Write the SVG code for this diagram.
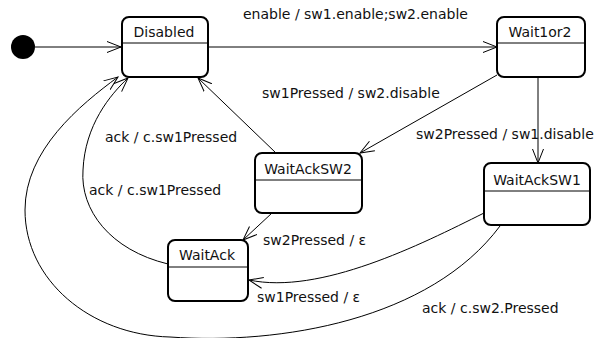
<svg xmlns="http://www.w3.org/2000/svg" width="599" height="338" viewBox="0 0 599 338">
<style>
.st{fill:#fff;stroke:#000;stroke-width:2}
.dv{stroke:#000;stroke-width:1}
.nm{font-family:"DejaVu Sans",sans-serif;font-size:14px;fill:#111;text-anchor:middle}
.lb{font-family:"DejaVu Sans",sans-serif;font-size:14px;fill:#111}
.c{fill:none;stroke:#000;stroke-width:1;marker-end:url(#ah)}
</style>
<defs>
<marker id="ah" markerUnits="userSpaceOnUse" markerWidth="16" markerHeight="14" refX="14" refY="6" orient="auto">
<path d="M0,0.5 L14,6 L0,11.5" fill="none" stroke="#000" stroke-width="1"/>
</marker>
</defs>
<rect width="599" height="338" fill="#fff"/>
<g id="connectors">
<path class="c" d="M35,47 L121,47"/>
<path class="c" d="M208,47 L497,47"/>
<path class="c" d="M497,75 L360,153"/>
<path class="c" d="M538,78 L538,163"/>
<path class="c" d="M276,153 L198,78"/>
<path class="c" d="M272,213 L243,240"/>
<path class="c" d="M484,213 C420,245 320,295 249,280"/>
<path class="c" d="M168,264 C110,250 80,210 83,170 C85,125 110,95 128,78"/>
<path class="c" d="M500,226 C430,320 280,345 170,337 C90,335 25,280 25,210 C25,150 80,105 118,77"/>
</g>
<g id="labels">
<text class="lb" x="243" y="19">enable / sw1.enable;sw2.enable</text>
<text class="lb" x="262" y="98">sw1Pressed / sw2.disable</text>
<text class="lb" x="416" y="139">sw2Pressed / sw1.disable</text>
<text class="lb" x="105" y="142">ack / c.sw1Pressed</text>
<text class="lb" x="89" y="195">ack / c.sw1Pressed</text>
<text class="lb" x="263" y="245">sw2Pressed / ε</text>
<text class="lb" x="257" y="302">sw1Pressed / ε</text>
<text class="lb" x="422" y="313">ack / c.sw2.Pressed</text>
</g>
<g id="initial"><circle cx="23" cy="47" r="12" fill="#000"/></g>
<g id="Disabled">
<rect class="st" x="122" y="17" width="86" height="60" rx="7"/>
<line class="dv" x1="122" y1="43" x2="208" y2="43"/>
<text class="nm" x="164" y="37">Disabled</text>
</g>
<g id="Wait1or2">
<rect class="st" x="497" y="17" width="88" height="60" rx="7"/>
<line class="dv" x1="497" y1="43" x2="585" y2="43"/>
<text class="nm" x="540" y="37">Wait1or2</text>
</g>
<g id="WaitAckSW2">
<rect class="st" x="255" y="153" width="107" height="60" rx="7"/>
<line class="dv" x1="255" y1="180" x2="362" y2="180"/>
<text class="nm" x="308" y="174">WaitAckSW2</text>
</g>
<g id="WaitAckSW1">
<rect class="st" x="484" y="163" width="106" height="62" rx="7"/>
<line class="dv" x1="484" y1="191" x2="590" y2="191"/>
<text class="nm" x="537" y="185">WaitAckSW1</text>
</g>
<g id="WaitAck">
<rect class="st" x="168" y="240" width="80" height="61" rx="7"/>
<line class="dv" x1="168" y1="267" x2="248" y2="267"/>
<text class="nm" x="207" y="260">WaitAck</text>
</g>
</svg>
